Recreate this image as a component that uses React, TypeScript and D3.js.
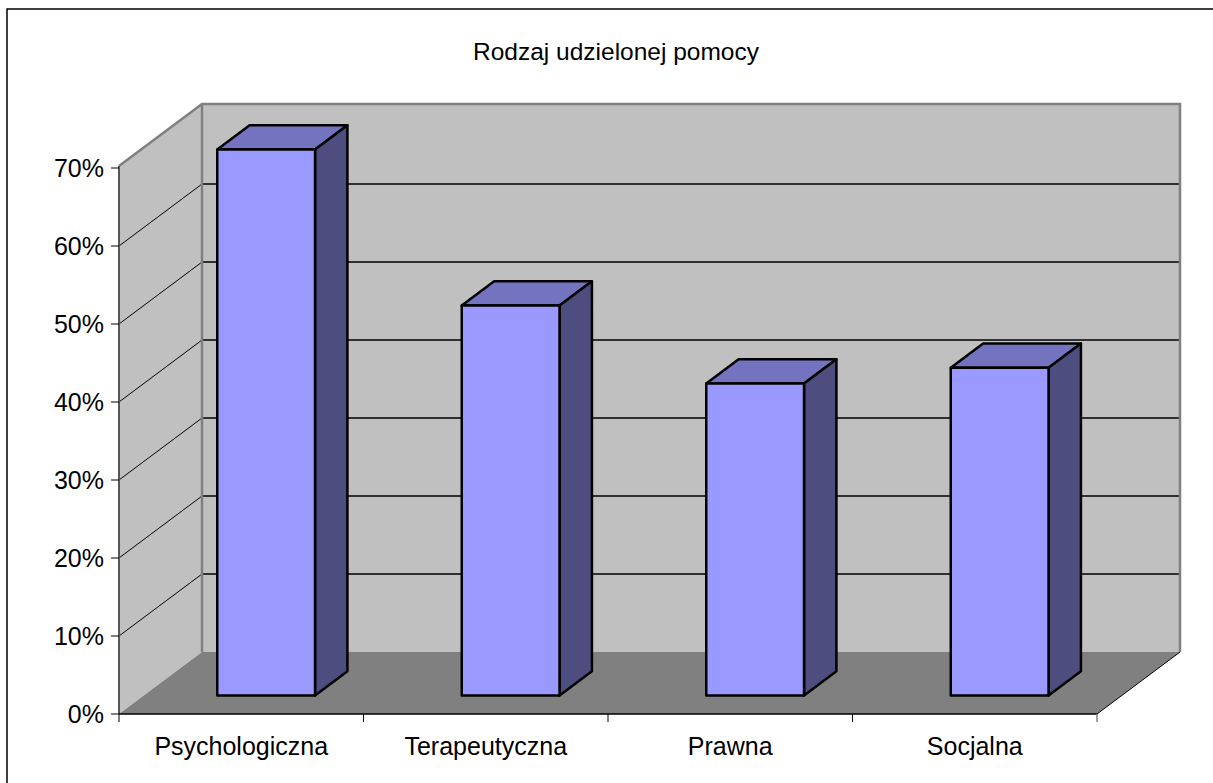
import React from "react";
import * as d3 from "d3";

const title = "Rodzaj udzielonej pomocy";
const categories = ["Psychologiczna", "Terapeutyczna", "Prawna", "Socjalna"];
const values = [0.70, 0.50, 0.40, 0.42];
const yTicks = [0, 0.1, 0.2, 0.3, 0.4, 0.5, 0.6, 0.7];

export default function App() {
  const W = 1213, H = 783;
  const x0 = 119, x1 = 1097;
  const yBottom = 714, yTop = 168;
  const DX = 83, DY = -62;
  const y = d3.scaleLinear().domain([0, 0.7]).range([yBottom, yTop]);
  const x = d3.scaleBand().domain(categories).range([x0, x1]).paddingInner(0).paddingOuter(0);
  const bw = x.bandwidth();
  const fFront = 0.3, fBack = 0.69;
  const font = "Liberation Sans, Arial, sans-serif";

  const wallTop = y(0.7) + DY - 2;
  const pts = (arr: number[][]) => arr.map((p) => p.join(",")).join(" ");

  return (
    <svg width={W} height={H} style={{ position: "absolute", left: 0, top: 0 }}>
      <rect x={0} y={0} width={W} height={H} fill="#fff" />
      <rect x={7} y={9} width={W + 10} height={H + 10} fill="#fff" stroke="#000" strokeWidth={1.5} />
      <text x={616} y={60} textAnchor="middle" fontFamily={font} fontSize={24.5} fill="#000">{title}</text>
      {/* back wall */}
      <polygon points={pts([[x0 + DX, wallTop], [x1 + DX, wallTop], [x1 + DX, yBottom + DY], [x0 + DX, yBottom + DY]])} fill="#c0c0c0" />
      {/* left wall */}
      <polygon points={pts([[x0, yBottom], [x0, wallTop - DY], [x0 + DX, wallTop], [x0 + DX, yBottom + DY]])} fill="#c0c0c0" />
      {/* floor */}
      <polygon points={pts([[x0, yBottom], [x1, yBottom], [x1 + DX, yBottom + DY], [x0 + DX, yBottom + DY]])} fill="#808080" />
      {/* gridlines */}
      {yTicks.slice(1, -1).map((t) => (
        <g key={t}>
          <line x1={x0} y1={y(t)} x2={x0 + DX} y2={y(t) + DY} stroke="#000" strokeWidth={1} />
          <line x1={x0 + DX} y1={y(t) + DY} x2={x1 + DX} y2={y(t) + DY} stroke="#000" strokeWidth={1.3} />
        </g>
      ))}
      {/* wall edges */}
      <polyline points={pts([[x0, wallTop - DY], [x0 + DX, wallTop], [x1 + DX, wallTop], [x1 + DX, yBottom + DY]])} fill="none" stroke="#808080" strokeWidth={2.5} />
      <line x1={x0 + DX} y1={wallTop} x2={x0 + DX} y2={yBottom + DY} stroke="#808080" strokeWidth={2.5} />
      <line x1={x1} y1={yBottom} x2={x1 + DX} y2={yBottom + DY} stroke="#000" strokeWidth={1} />
      {/* y axis */}
      <line x1={x0} y1={wallTop - DY} x2={x0} y2={yBottom} stroke="#555" strokeWidth={2} />
      {yTicks.map((t) => (
        <g key={"yt" + t}>
          <line x1={x0 - 8} y1={y(t)} x2={x0} y2={y(t)} stroke="#000" strokeWidth={1} />
          <text x={104} y={y(t) + 9} textAnchor="end" fontFamily={font} fontSize={25} fill="#000">{d3.format(".0%")(t)}</text>
        </g>
      ))}
      {/* x axis */}
      <line x1={x0} y1={yBottom} x2={x1} y2={yBottom} stroke="#000" strokeWidth={1.5} />
      {categories.map((c) => (
        <line key={"xt" + c} x1={x(c)!} y1={yBottom} x2={x(c)!} y2={yBottom + 8} stroke="#000" strokeWidth={1} />
      ))}
      <line x1={x1} y1={yBottom} x2={x1} y2={yBottom + 8} stroke="#808080" strokeWidth={1.5} />
      {categories.map((c) => (
        <text key={"xl" + c} x={x(c)! + bw / 2} y={755} textAnchor="middle" fontFamily={font} fontSize={25} fill="#000">{c}</text>
      ))}
      {/* bars */}
      {categories.map((c, i) => {
        const v = values[i];
        const bx = x(c)! + bw * 0.3 + fFront * DX;
        const bWidth = bw * 0.4;
        const by0 = yBottom + fFront * DY;
        const h = yBottom - y(v);
        const by1 = by0 - h;
        const ddx = (fBack - fFront) * DX;
        const ddy = (fBack - fFront) * DY;
        return (
          <g key={"bar" + c} stroke="#000" strokeWidth={2.5} strokeLinejoin="round">
            <polygon points={pts([[bx, by1], [bx + ddx, by1 + ddy], [bx + bWidth + ddx, by1 + ddy], [bx + bWidth, by1]])} fill="#7373bf" />
            <polygon points={pts([[bx + bWidth, by1], [bx + bWidth + ddx, by1 + ddy], [bx + bWidth + ddx, by0 + ddy], [bx + bWidth, by0]])} fill="#4d4d80" />
            <rect x={bx} y={by1} width={bWidth} height={h} fill="#9999ff" />
          </g>
        );
      })}
    </svg>
  );
}
